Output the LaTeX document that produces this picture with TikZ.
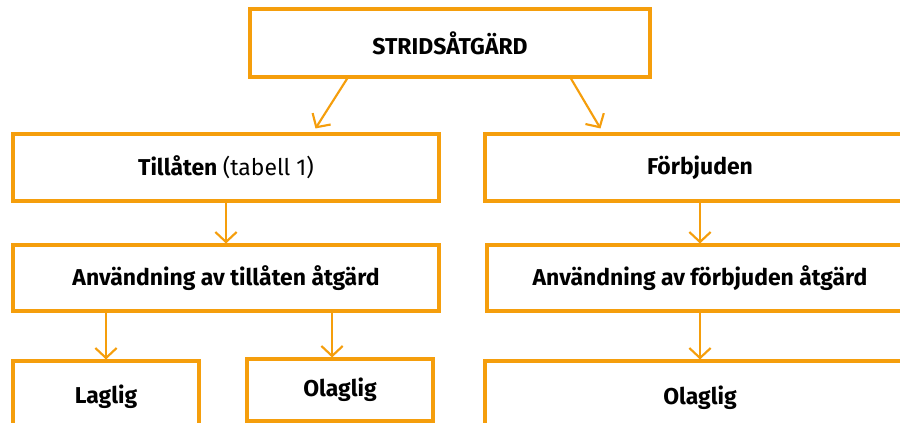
\documentclass[tikz,border=0pt]{standalone}
\usepackage{fontspec}
\setmainfont{Fira Sans}
\usetikzlibrary{arrows.meta,calc}
\definecolor{org}{RGB}{245,158,12}
\begin{document}
\begin{tikzpicture}[x=0.75pt,y=-0.75pt,
  box/.style={draw=org,line width=2.3pt,rectangle,inner sep=0pt,
    font=\bfseries\fontsize{17.2}{20}\selectfont},
  arr/.style={draw=org,line width=1.6pt,
    -{Straight Barb[length=7.5pt,width=16pt,line width=1.6pt]}}]
\useasboundingbox (0,0) rectangle (900,423);
\clip (0,0) rectangle (900,423);
\fill[white] (0,0) rectangle (900,423);

\node[box,minimum width=300pt,minimum height=51pt] (top) at (450,43) {STRIDSÅTGÄRD};
\node[box,minimum width=319.5pt,minimum height=50.25pt] (till) at (226,167.5)
  {Tillåten \mdseries(tabell 1)};
\node[box,minimum width=322.5pt,minimum height=50.25pt] (forb) at (700,167.5) {Förbjuden};
\node[box,minimum width=319.5pt,minimum height=49.5pt] (anvL) at (226,278)
  {Användning av tillåten åtgärd};
\node[box,minimum width=319.5pt,minimum height=49.5pt] (anvR) at (700,278)
  {Användning av förbjuden åtgärd};
\node[box,minimum width=139.5pt,minimum height=54pt] (lag) at (106,397) {Laglig};
\node[box,minimum width=139.5pt,minimum height=46.5pt] (olagL) at (340,390) {Olaglig};
\node[box,minimum width=322.5pt,minimum height=55.5pt] (olagR) at (700,398) {Olaglig};

\coordinate (t1) at ($(top.south west)!0.245!(top.south east)$);
\coordinate (t2) at ($(top.south west)!0.80!(top.south east)$);
\coordinate (e1) at ($(till.north west)+(304,-4)$);
\coordinate (e2) at ($(forb.north west)+(117,-4)$);
\draw[arr] (t1) -- (e1);
\draw[arr] (t2) -- (e2);
\draw[arr] (till.south) -- (anvL.north);
\draw[arr] (forb.south) -- (anvR.north);
\draw[arr] (anvL.south -| lag.north) -- (lag.north);
\coordinate (o1) at ($(olagL.north west)!0.458!(olagL.north east)$);
\draw[arr] (anvL.south -| o1) -- (o1);
\draw[arr] (anvR.south) -- (olagR.north);
\end{tikzpicture}
\end{document}
